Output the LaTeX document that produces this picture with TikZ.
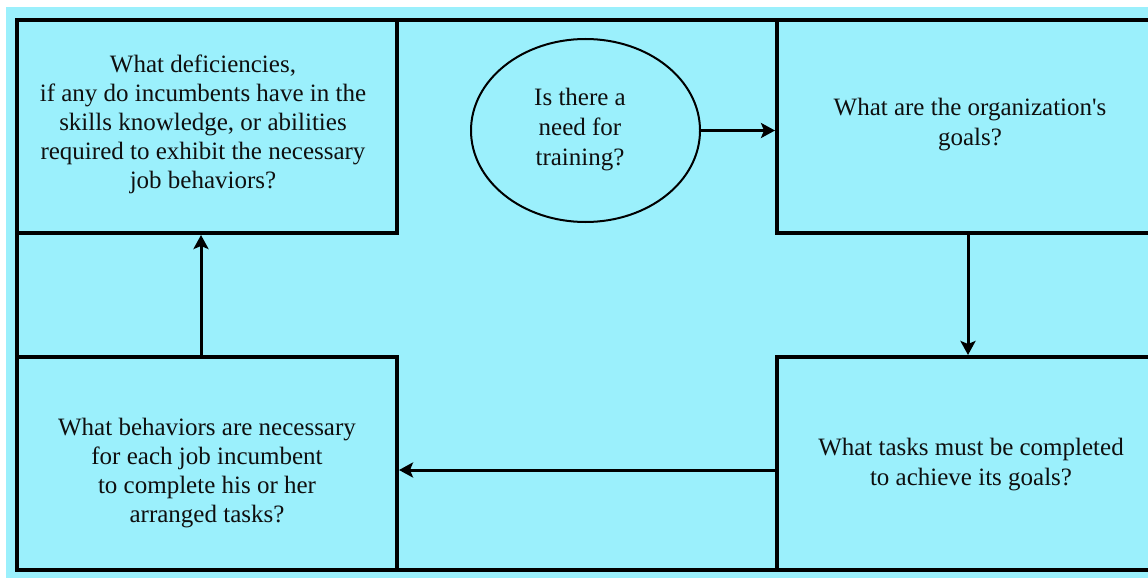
\documentclass[tikz,border=0pt]{standalone}
\usepackage{fontspec}
\setmainfont{Liberation Serif}
\usetikzlibrary{arrows.meta,shapes.geometric}
\definecolor{bgcyan}{RGB}{155,240,252}
\definecolor{ink}{RGB}{15,15,15}
\begin{document}
\begin{tikzpicture}[x=1pt,y=1pt,
  qbox/.style={draw=black,line width=4pt,inner sep=0pt,text=ink,align=center},
  conn/.style={draw=black,line width=3pt,-{Stealth[length=14pt,width=15pt,inset=3pt]}},
  txt/.style={font=\fontsize{25}{29}\selectfont}]
\useasboundingbox (0,0) rectangle (1148,-578);
\fill[white] (0,0) rectangle (1148,-578);
\fill[bgcyan] (6,-7) rectangle (1148,-578);
% outer frame
\draw[line width=4pt] (17,-20) rectangle (1163,-570);
% boxes
\node[qbox,minimum width=380pt,minimum height=213pt] (b1) at (207,-126.5) {};
\node[qbox,minimum width=386pt,minimum height=213pt] (b2) at (970,-126.5) {};
\node[qbox,minimum width=380pt,minimum height=213pt] (b3) at (207,-463.5) {};
\node[qbox,minimum width=386pt,minimum height=213pt] (b4) at (970,-463.5) {};
\node[draw=black,line width=2pt,ellipse,minimum width=229pt,minimum height=183pt,inner sep=0pt] (e) at (585.5,-130.5) {};
% texts
\node[txt,text=ink,align=center] (t1) at (203,-124) {What deficiencies,\\if any do incumbents have in the\\skills knowledge, or abilities\\required to exhibit the necessary\\job behaviors?};
\node[txt,text=ink,align=center,font=\fontsize{25}{30}\selectfont] (t2) at (970,-125) {What are the organization\textquotesingle s\\goals?};
\node[txt,text=ink,align=center] (t3) at (207,-473) {What behaviors are necessary\\for each job incumbent\\to complete his or her\\arranged tasks?};
\node[txt,text=ink,align=center,font=\fontsize{25}{30}\selectfont] (t4) at (971,-465) {What tasks must be completed\\to achieve its goals?};
\node[txt,text=ink,align=center,font=\fontsize{25}{30}\selectfont] (te) at (580,-130) {Is there a\\need for\\training?};
% connectors
\draw[conn] (e.east) -- (b2.west |- e.east);
\draw[conn] (b2.south -| 968,0) -- (b4.north -| 968,0);
\draw[conn] (b4.west |- 0,-470) -- (b3.east |- 0,-470);
\draw[conn] (b3.north -| 201,0) -- (b1.south -| 201,0);
\end{tikzpicture}
\end{document}
